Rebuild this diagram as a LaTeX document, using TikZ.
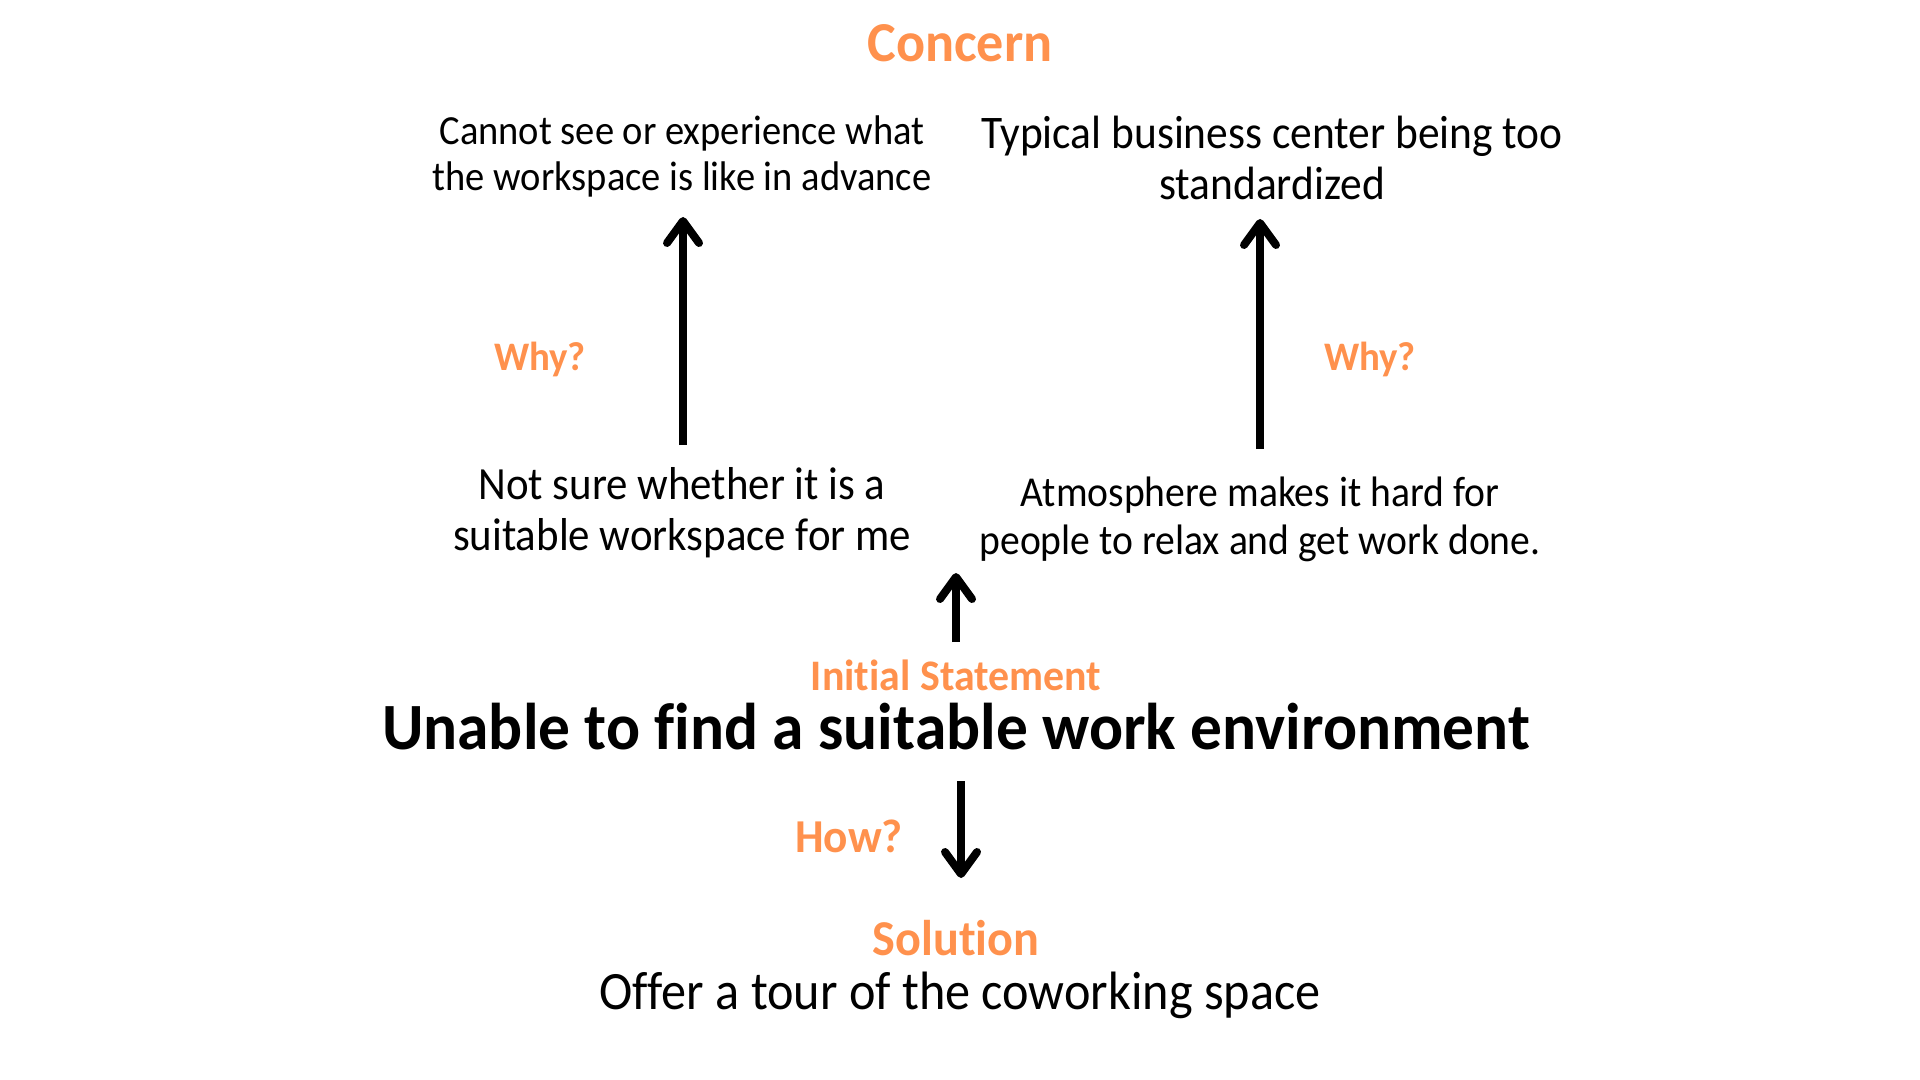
\documentclass[tikz,border=0pt]{standalone}
\usepackage{fontspec}
\setmainfont{Carlito}[FakeStretch=0.93, Ligatures=NoCommon, BoldFeatures={FakeStretch=0.96}]
\usetikzlibrary{arrows.meta}
\definecolor{accent}{HTML}{FF914D}
\tikzset{
  lbl/.style={font=\bfseries\fontsize{#1}{#1}\selectfont, text=accent, inner sep=0pt},
  txt/.style={align=center, inner sep=0pt},
  arr/.style={line width=4pt, -{Straight Barb[length=11pt,width=16pt,line width=4pt,round]}}
}
\begin{document}
\begin{tikzpicture}[x=0.5pt,y=-0.5pt]
\useasboundingbox (0,0) rectangle (1920,1080);
\node[lbl=28.2] (concern) at (960,43) {Concern};
\node[txt, font=\fontsize{20.7}{23.25}\selectfont] (cannot) at (682,156.5) {Cannot see or experience what\\the workspace is like in advance};
\node[txt, font=\fontsize{23.35}{25.5}\selectfont] (typical) at (1272,158) {Typical business center being too\\standardized};
\node[lbl=20.25] (why1) at (540,359.5) {Why?};
\node[lbl=20.25] (why2) at (1370,359.5) {Why?};
\node[txt, font=\fontsize{23.06}{25.7}\selectfont] (notsure) at (682,512.7) {Not sure whether it is a\\suitable workspace for me};
\node[txt, font=\fontsize{21.3}{23.9}\selectfont] (atmo) at (1260,519.7) {Atmosphere makes it hard for\\people to relax and get work done.};
\node[lbl=21.8] (initial) at (956,675) {Initial Statement};
\node[font=\bfseries\fontsize{33.05}{33.05}\selectfont, inner sep=0pt] (unable) at (956,726.5) {Unable to find a suitable work environment};
\node[lbl=23.6] (how) at (849,836) {How?};
\node[lbl=25.1] (solution) at (956,938) {Solution};
\node[font=\fontsize{27}{27}\selectfont, inner sep=0pt] (offer) at (960,995.7) {Offer a tour of the coworking space};
\coordinate (a1s) at (683,445);
\coordinate (a1e) at (683,217);
\coordinate (a2s) at (1260,449);
\coordinate (a2e) at (1260,219);
\coordinate (a3s) at (956,642);
\coordinate (a3e) at (956,573);
\coordinate (a4s) at (961,781);
\coordinate (a4e) at (961,878);
\draw[arr] (a1s) -- (a1e);
\draw[arr] (a2s) -- (a2e);
\draw[arr] (a3s) -- (a3e);
\draw[arr] (a4s) -- (a4e);
\end{tikzpicture}
\end{document}
